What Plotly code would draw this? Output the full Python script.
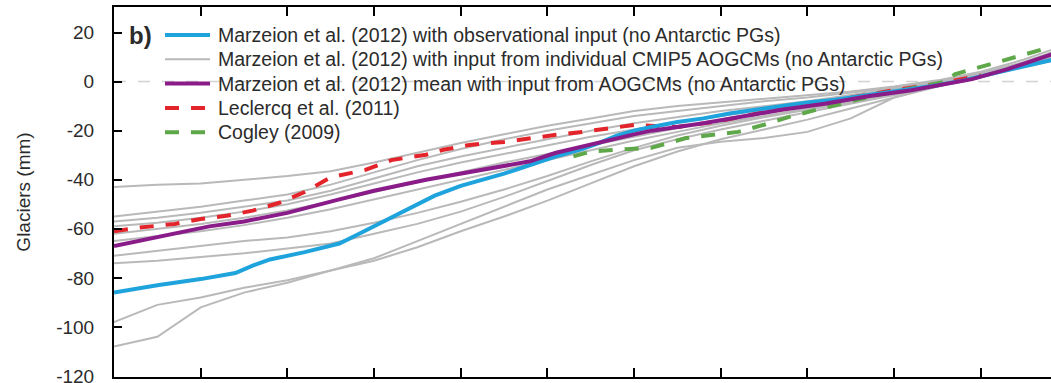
import plotly.graph_objects as go

# ---------------- data ----------------
obs_years = [1900, 1905, 1910, 1914, 1916, 1918, 1922, 1926, 1928, 1930, 1932, 1935, 1937, 1940,
             1943, 1945, 1948, 1951, 1954, 1956, 1958, 1960, 1962, 1965, 1968, 1971, 1974, 1977,
             1980, 1983, 1986, 1989, 1992, 1995, 1998, 2001, 2004, 2007, 2009]
obs_vals = [-86, -83, -80.5, -78, -75, -72.5, -69.5, -66, -62.5, -59, -55.5, -50, -46.5, -42.5,
            -39.5, -37.5, -34, -30.5, -27.5, -25, -22, -20, -18.5, -16.5, -15, -13, -11.5, -10,
            -8.5, -7.5, -6, -4.5, -3, -1.5, 0.5, 3, 5.5, 8, 9.5]

mean_years = [1900, 1905, 1911, 1915, 1920, 1926, 1930, 1936, 1940, 1945, 1948, 1951, 1955, 1960,
              1962, 1965, 1968, 1972, 1977, 1982, 1987, 1992, 1996, 1999, 2003, 2006, 2009]
mean_vals = [-67, -63.5, -59, -57, -53.5, -48, -44.5, -40, -37.5, -34.5, -32.5, -29, -25.5, -21.5,
             -20, -18.5, -17, -14.5, -11.5, -9, -6, -3.5, -1, 1, 5, 8.5, 12]

lecl_years = [1900, 1903, 1907, 1910, 1913, 1916, 1919, 1922, 1925, 1929, 1932, 1936, 1938, 1941,
              1945, 1948, 1951, 1954, 1957, 1960, 1965, 1970, 1975, 1980, 1985, 1990, 1995, 2000]
lecl_vals = [-61, -59.5, -58, -56, -54.7, -52.6, -49.5, -45, -39, -36, -32, -29.8, -27.8, -25.8,
             -24.6, -23, -21.7, -20.5, -19, -17.7, -18.5, -16, -12.5, -9.5, -6.5, -3.5, -1, 2.5]

cog_years = [1953, 1955, 1958, 1962, 1966, 1969, 1972, 1975, 1978, 1981, 1985, 1988, 1991, 1994,
             1996, 1997, 2000, 2003, 2006, 2009]
cog_vals = [-30.5, -28.5, -27.8, -27, -23, -21.7, -20.5, -17.6, -14.3, -11.5, -8, -5.5, -3.5, -1.5,
            0, 3, 6, 9, 12, 15]

gcm_years = [1900, 1905, 1910, 1915, 1920, 1925, 1930, 1935, 1940, 1945, 1950, 1955, 1960, 1965,
             1970, 1975, 1980, 1985, 1990, 1995, 2000, 2005, 2009]
gcm_a = [-43, -42, -41.5, -40, -38.5, -36.5, -33, -29, -25, -21.5, -18, -15, -12, -10, -8.5, -7,
         -5.5, -4, -2, 0.5, 4, 9, 14]
gcm_b = [-55, -53, -51, -48.5, -46, -42, -37, -32, -27.5, -23.5, -20, -17, -14, -12, -10, -8, -6.5,
         -4.5, -2.5, 0, 3.5, 8, 13]
gcm_c = [-57, -55.5, -53.5, -51, -48.5, -44.5, -39.5, -34.5, -30.5, -27, -23.5, -20, -17, -14.5,
         -12, -10, -8, -5.5, -3, -0.5, 3, 7, 11]
gcm_d = [-59, -57.5, -55.5, -53, -50, -46, -41.5, -37, -33, -29.5, -26, -22.5, -19.5, -16.5, -14,
         -11.5, -9, -6.5, -3.5, -0.5, 3, 7.5, 12]
gcm_e = [-62, -60, -58, -55.5, -52.5, -49, -45, -41, -37, -33, -29.5, -26, -22.5, -19, -15.5,
         -12.5, -10, -7, -4, -1, 2.5, 7, 11.5]
gcm_f = [-65, -63, -61, -58.5, -55.5, -52, -48, -44, -40, -36, -32, -28, -24, -20.5, -17, -14, -11,
         -8, -5, -1.5, 2, 6.5, 10]
gcm_g = [-71, -69, -67, -65, -63.5, -61, -57.5, -53.5, -49, -44, -38.5, -32.5, -27, -22, -18,
         -14.5, -11.5, -8.5, -5, -1.5, 2, 6, 9]
gcm_h = [-74, -73, -71.5, -70, -68, -66, -62, -58, -53, -47, -40.5, -34, -28, -23.5, -19.5, -16,
         -12.5, -9, -5.5, -2, 2.5, 7, 11]
gcm_j = [-98, -91, -88, -84, -81, -77, -73, -67.5, -61, -55, -48.5, -41.5, -34.5, -28.5, -23.5,
         -19.5, -15.5, -11, -6.5, -2, 2.5, 7, 11]
gcm_k = [-108, -104, -92, -86, -82, -77, -72, -65, -58, -51, -44, -38, -32, -27, -24.5, -23,
         -20.5, -15, -6.5, -2, 3, 7, 10]
gcm_runs = [gcm_a, gcm_b, gcm_c, gcm_d, gcm_e, gcm_f, gcm_g, gcm_h, gcm_j, gcm_k]

y_ticks = [20, 0, -20, -40, -60, -80, -100, -120]
y_tick_text = ["20", "0", "-20", "-40", "-60", "-80", "-100", "-120"]
x_ticks = list(range(1900, 2011, 10))

legend_labels = [
    "Marzeion et al. (2012) with observational input (no Antarctic PGs)",
    "Marzeion et al. (2012) with input from individual CMIP5 AOGCMs (no Antarctic PGs)",
    "Marzeion et al. (2012) mean with input from AOGCMs (no Antarctic PGs)",
    "Leclercq et al. (2011)",
    "Cogley (2009)",
]

# ---------------- styles ----------------
GRAY = "#b9b9b9"
BLUE = "#1ea3dc"
PURPLE = "#8a1c8a"
RED = "#e3242b"
GREEN = "#5fa84a"
FONT = "Liberation Sans, Arial, sans-serif"
TXT = "#2b2b2b"
DASH = "14px,12px"

legend_styles = [
    dict(color=BLUE, width=4),
    dict(color=GRAY, width=2),
    dict(color=PURPLE, width=4),
    dict(color=RED, width=4, dash=DASH),
    dict(color=GREEN, width=4, dash=DASH),
]

fig = go.Figure()

for i, run in enumerate(gcm_runs):
    fig.add_trace(go.Scatter(x=gcm_years, y=run, mode="lines", name=legend_labels[1],
                             line=dict(color=GRAY, width=2), showlegend=False))

fig.add_trace(go.Scatter(x=lecl_years, y=lecl_vals, mode="lines", name=legend_labels[3],
                         line=dict(color=RED, width=4, dash=DASH), showlegend=False))
fig.add_trace(go.Scatter(x=cog_years, y=cog_vals, mode="lines", name=legend_labels[4],
                         line=dict(color=GREEN, width=4, dash=DASH), showlegend=False))
fig.add_trace(go.Scatter(x=obs_years, y=obs_vals, mode="lines", name=legend_labels[0],
                         line=dict(color=BLUE, width=4), showlegend=False))
fig.add_trace(go.Scatter(x=mean_years, y=mean_vals, mode="lines", name=legend_labels[2],
                         line=dict(color=PURPLE, width=4), showlegend=False))

fig.add_hline(y=0, line=dict(color="#d2d2d2", width=1.5, dash="12px,12px"), layer="below")

# ---- legend drawn as key lines + text (compact spacing like the reference) ----
W, H, L, T = 937.0, 370.0, 114.0, 7.0
def px_x(p):
    return (p - L) / W
def px_y(p):
    return 1 - (p - T) / H

for i, (label, st) in enumerate(zip(legend_labels, legend_styles)):
    ypx = 35 + 24.3 * i
    fig.add_shape(type="line", xref="paper", yref="paper",
                  x0=px_x(165), x1=px_x(210), y0=px_y(ypx), y1=px_y(ypx), line=st)
    fig.add_annotation(text=label, xref="paper", yref="paper", x=px_x(216), y=px_y(ypx),
                       xanchor="left", yanchor="middle", showarrow=False,
                       font=dict(family=FONT, size=19.5, color=TXT))

fig.add_annotation(text="<b>b)</b>", xref="paper", yref="paper", x=px_x(127), y=px_y(35),
                   xanchor="left", yanchor="middle", showarrow=False,
                   font=dict(family=FONT, size=24, color=TXT))

fig.update_layout(
    width=1051, height=383,
    margin=dict(l=114, r=0, t=7, b=6, autoexpand=False),
    paper_bgcolor="white", plot_bgcolor="white",
    font=dict(family=FONT, color=TXT, size=18),
    showlegend=False,
    xaxis=dict(range=[1900, 2008.1], tickvals=x_ticks, showticklabels=False,
               ticks="inside", ticklen=9, tickwidth=2, tickcolor="black",
               showline=True, linecolor="black", linewidth=2, mirror="ticks",
               showgrid=False, zeroline=False, automargin=False),
    yaxis=dict(range=[-120.4, 30.4], tickvals=y_ticks, ticktext=y_tick_text,
               ticks="inside", ticklen=8, tickwidth=2, ticklabeloverflow="allow",
               tickcolor="black", showline=True, linecolor="black", linewidth=2,
               showgrid=False, zeroline=False, ticklabelstandoff=14, automargin=False,
               tickfont=dict(family=FONT, size=19, color=TXT),
               title=dict(text="Glaciers (mm)", standoff=21,
                          font=dict(family=FONT, size=19, color=TXT))),
)

fig.write_html("out.html", config={"displayModeBar": False},
               post_script="document.body.style.margin='0';")
